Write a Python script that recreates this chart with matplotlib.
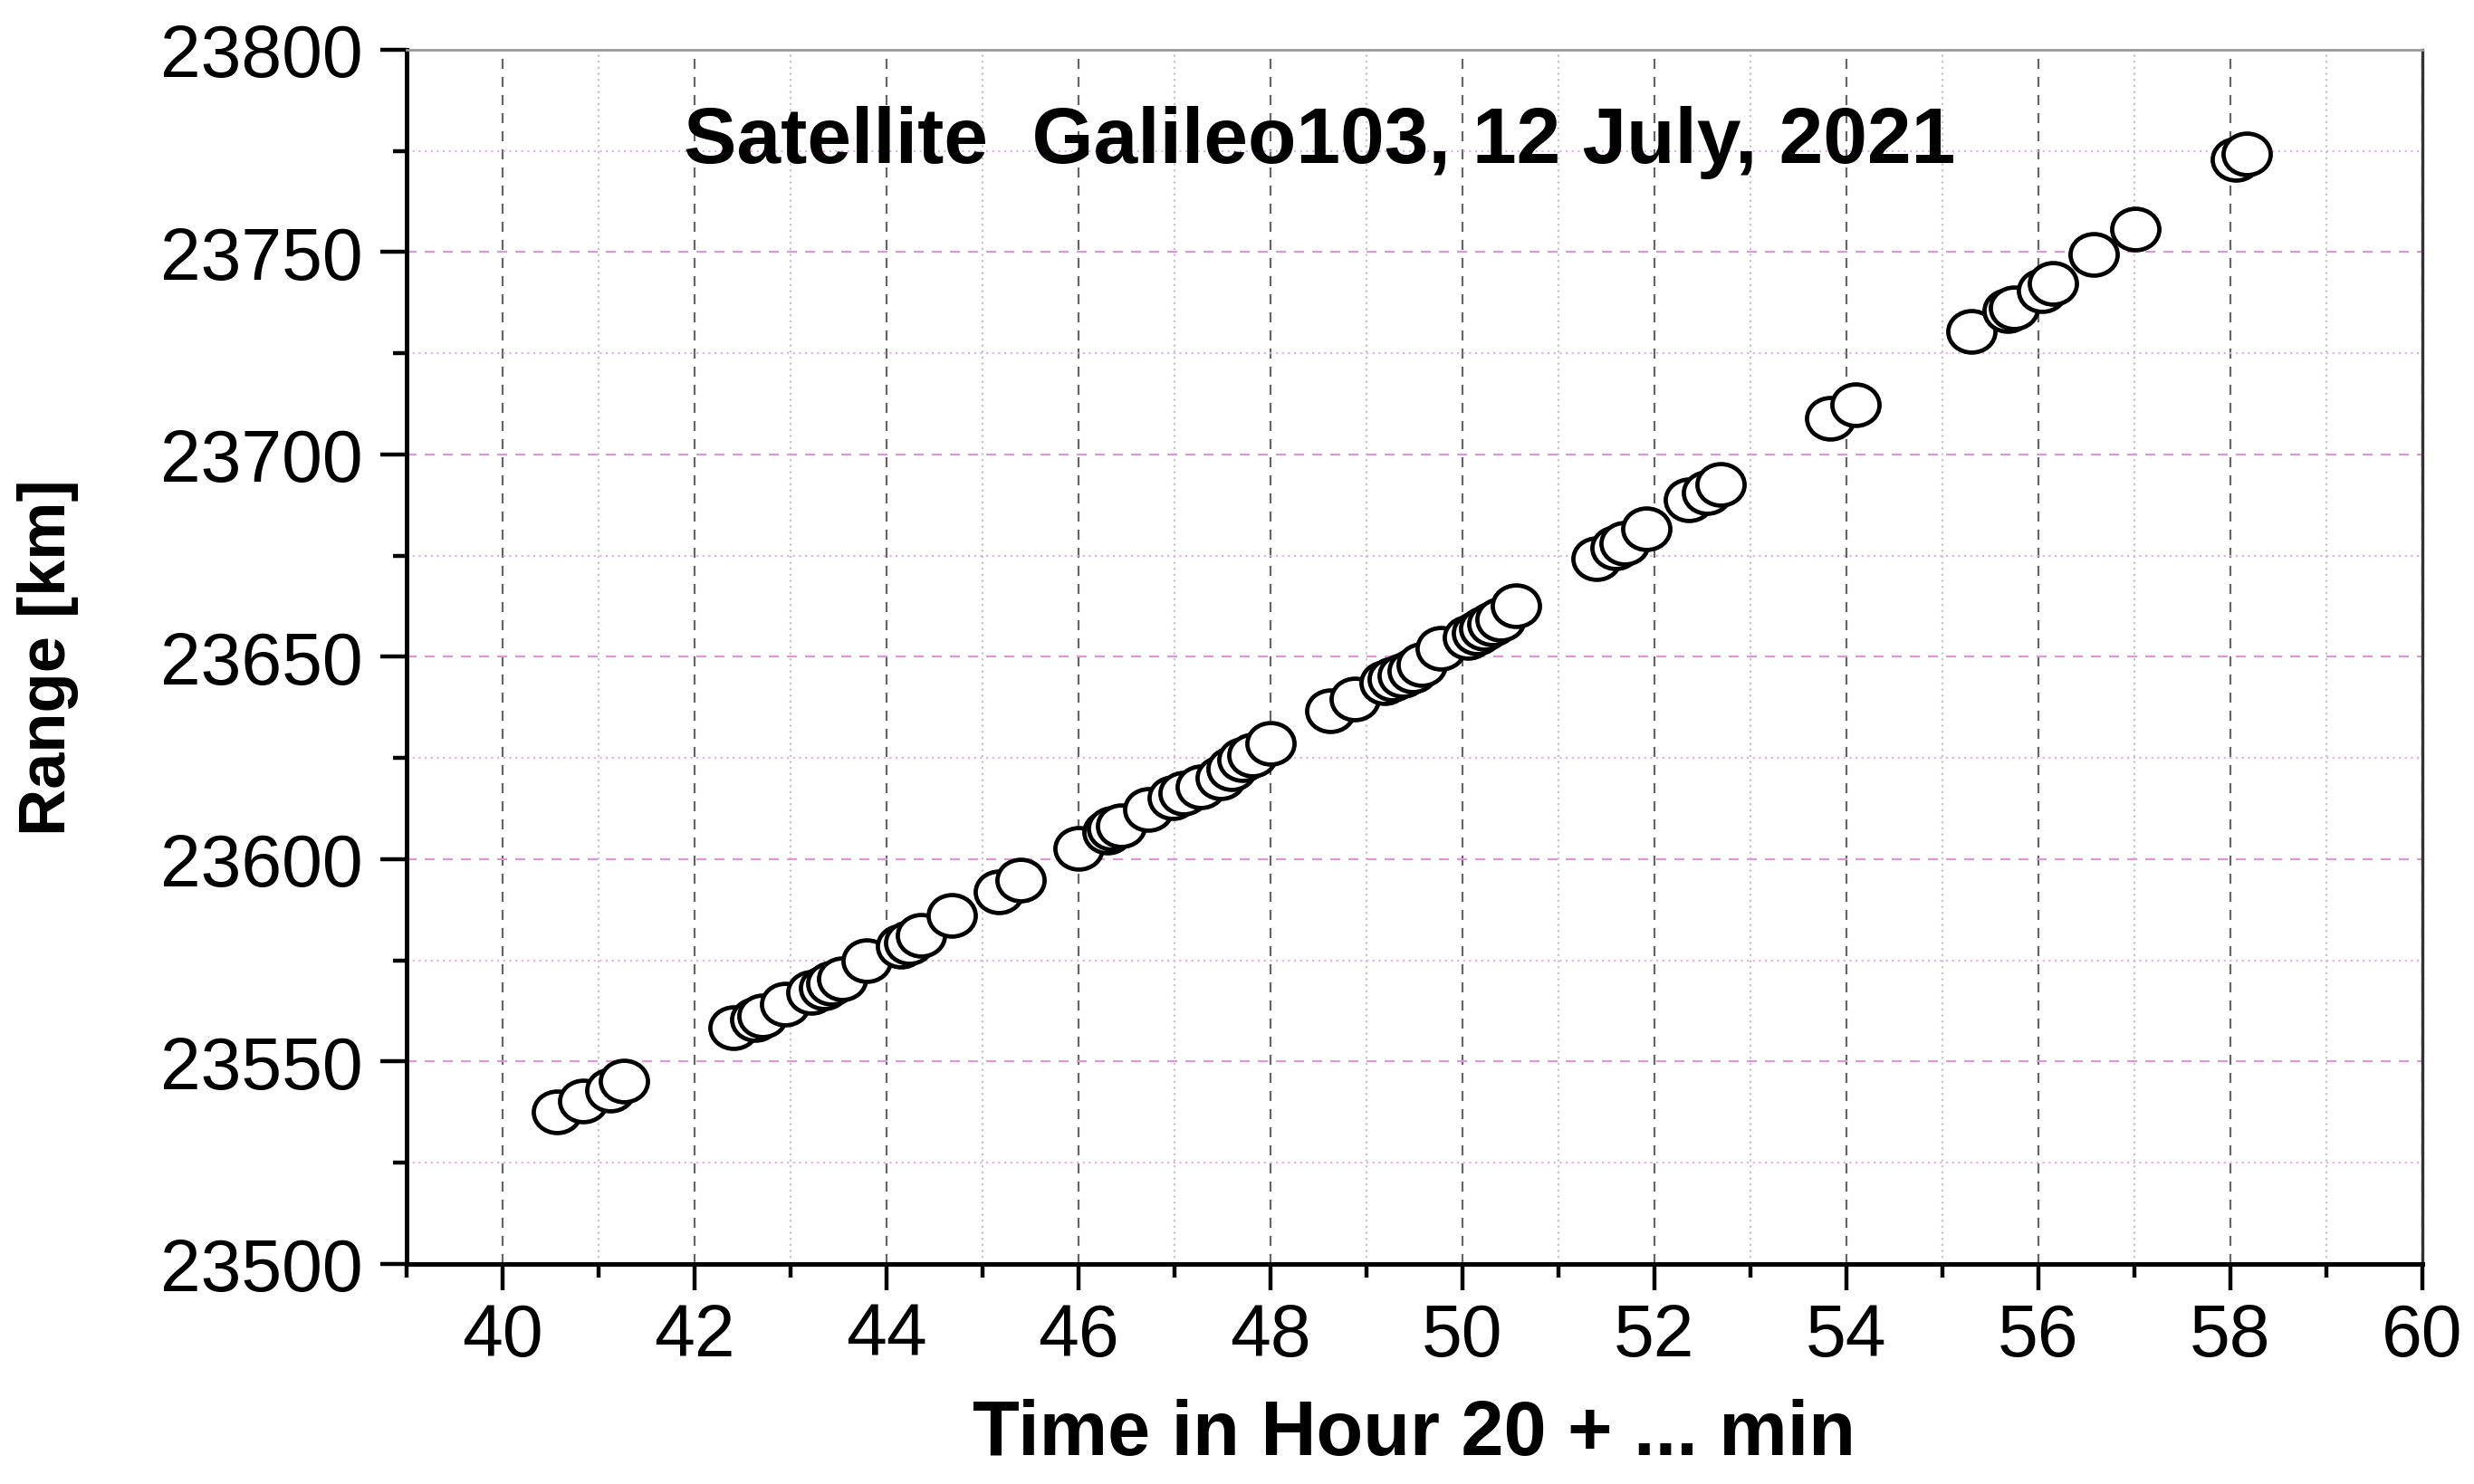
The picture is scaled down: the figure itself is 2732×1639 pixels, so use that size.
import matplotlib
matplotlib.use('Agg')
import matplotlib.pyplot as plt
from matplotlib.path import Path
from matplotlib.transforms import Affine2D
from matplotlib.ticker import MultipleLocator
import numpy as np

plt.rcParams['font.family'] = ['Liberation Sans', 'DejaVu Sans']

# ── datos ────────────────────────────────────────────────────────────
time_min = [40.57, 40.84, 41.12, 41.27, 42.41, 42.63, 42.71, 42.94, 43.22, 43.35,
            43.43, 43.54, 43.79, 44.15, 44.24, 44.36, 44.68, 45.17, 45.40, 46.00,
            46.30, 46.35, 46.44, 46.73, 46.98, 47.10, 47.27, 47.48, 47.60, 47.71,
            47.81, 48.00, 48.62, 48.88, 49.19, 49.27, 49.375, 49.48, 49.58, 49.77,
            50.06, 50.15, 50.23, 50.31, 50.40, 50.56, 51.40, 51.60, 51.69, 51.92,
            52.36, 52.55, 52.69, 53.83, 54.10, 55.30, 55.68, 55.75, 56.04, 56.15,
            56.58, 57.01, 58.06, 58.17]
range_km = [23537.5, 23540.3, 23542.9, 23545.1, 23558.4, 23560.3, 23561.2, 23564.2, 23567.2, 23568.3,
            23569.4, 23570.5, 23575.0, 23578.4, 23579.5, 23581.3, 23586.2, 23592.0, 23594.8, 23602.6,
            23606.8, 23607.5, 23608.2, 23612.3, 23615.2, 23616.4, 23617.9, 23620.1, 23622.4, 23624.6,
            23625.7, 23628.7, 23636.6, 23639.5, 23643.7, 23644.4, 23645.5, 23646.6, 23648.1, 23652.0,
            23654.9, 23656.0, 23657.1, 23658.2, 23659.3, 23662.7, 23674.3, 23676.9, 23678.0, 23681.7,
            23688.8, 23690.5, 23692.5, 23709.0, 23712.3, 23730.3, 23735.5, 23736.3, 23740.4, 23742.3,
            23749.4, 23755.8, 23773.0, 23774.2]

TITLE = 'Satellite  Galileo103, 12 July, 2021'
XLABEL = 'Time in Hour 20 + ... min'
YLABEL = 'Range [km]'

PINK = '#df98d6'
PINK_LIGHT = '#e9b0e2'

# marcador elíptico (el original está estirado en horizontal)
ellipse = Path.unit_circle().transformed(Affine2D().scale(1.0, 0.88))

fig = plt.figure(figsize=(27.32, 16.40), dpi=100)
ax = fig.add_axes([0.1643, 0.1482, 0.8148, 0.8177])

ax.plot(time_min, range_km, ls='none', marker=ellipse, ms=37.5,
        mfc='white', mec='black', mew=3.4, zorder=3)

ax.set_xlim(39, 60)
ax.set_ylim(23500, 23800)
ax.xaxis.set_major_locator(MultipleLocator(2))
ax.xaxis.set_minor_locator(MultipleLocator(1))
ax.yaxis.set_major_locator(MultipleLocator(50))
ax.yaxis.set_minor_locator(MultipleLocator(25))

# ── grilla ────────────────────────────────────────────────────────────
ax.set_axisbelow(True)
ax.grid(True, axis='x', which='major', color='#666666', lw=1.6, ls=(0, (5, 4)))
ax.grid(True, axis='x', which='minor', color='#c4c4c4', lw=1.6, ls=(0, (1, 2)))
ax.grid(True, axis='y', which='major', color=PINK, lw=1.6, ls=(0, (5, 4)))
ax.grid(True, axis='y', which='minor', color=PINK_LIGHT, lw=1.6, ls=(0, (1, 2)))

# ── ejes ──────────────────────────────────────────────────────────────
for s in ('left', 'bottom'):
    ax.spines[s].set_linewidth(3.6)
    ax.spines[s].set_color('black')
ax.spines['top'].set_linewidth(2.0)
ax.spines['top'].set_color('#9a9a9a')
ax.spines['right'].set_linewidth(2.4)
ax.spines['right'].set_color('#333333')

ax.tick_params(which='both', direction='out', top=False, right=False,
               colors='black', labelsize=58)
ax.tick_params(which='major', length=21, width=3.2)
ax.tick_params(which='minor', length=11, width=3.2)
ax.tick_params(axis='x', which='major', pad=9)
ax.tick_params(axis='y', which='major', pad=14)

ax.set_xlabel(XLABEL, fontsize=61, fontweight='bold', va='center')
ax.xaxis.set_label_coords(0.5, -0.140)
ax.set_ylabel(YLABEL, fontsize=52, fontweight='bold', va='center')
ax.yaxis.set_label_coords(-0.178, 0.5)

ax.text(0.453, 0.924, TITLE, transform=ax.transAxes, ha='center', va='center',
        fontsize=63, fontweight='bold', zorder=4)

fig.savefig('out.png', dpi=100)
